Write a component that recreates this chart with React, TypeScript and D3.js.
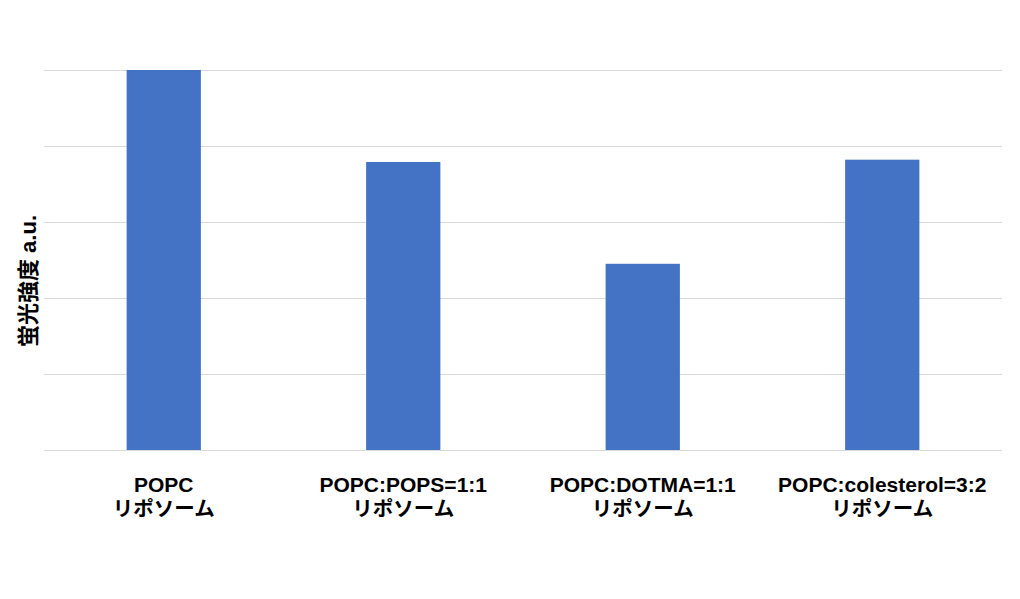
import React, { useEffect, useRef } from "react";
import * as d3 from "d3";

const categories = ["POPC", "POPC:POPS=1:1", "POPC:DOTMA=1:1", "POPC:colesterol=3:2"];
const subLabel = "リポソーム";
const values = [5.0, 3.79, 2.45, 3.82];
const yTicks = [0, 1, 2, 3, 4, 5];
const yTitle = "蛍光強度 a.u.";

const W = 1020;
const H = 599;
const font = "'Liberation Sans', 'Noto Sans CJK JP', sans-serif";

export default function App() {
    const ref = useRef<SVGSVGElement>(null);
    useEffect(() => {
        const svg = d3.select(ref.current);
        svg.selectAll("*").remove();
        const m = { left: 44, right: 18, top: 70, bottom: 149 };
        const x = d3.scaleBand().domain(categories).range([m.left, W - m.right]).paddingInner(0.69).paddingOuter(0.345);
        const y = d3.scaleLinear().domain([0, 5]).range([H - m.bottom, m.top]);

        svg.append("g")
            .selectAll("line")
            .data(yTicks)
            .join("line")
            .attr("x1", m.left)
            .attr("x2", W - m.right)
            .attr("y1", d => y(d) + 0.5)
            .attr("y2", d => y(d) + 0.5)
            .attr("stroke", "#d9d9d9")
            .attr("stroke-width", 1);

        svg.append("g")
            .selectAll("rect")
            .data(values)
            .join("rect")
            .attr("x", (d, i) => x(categories[i]) as number)
            .attr("width", x.bandwidth())
            .attr("y", d => y(d))
            .attr("height", d => y(0) - y(d))
            .attr("fill", "#4472c4");

        const cx = (d: string) => (x(d) as number) + x.bandwidth() / 2;
        const labels = svg.append("g")
            .attr("font-family", font)
            .attr("font-weight", "bold")
            .attr("fill", "#000")
            .attr("text-anchor", "middle");
        labels.selectAll("text.l1")
            .data(categories)
            .join("text")
            .attr("class", "l1")
            .attr("x", cx)
            .attr("y", 492)
            .attr("font-size", 21)
            .text(d => d);
        labels.selectAll("text.l2")
            .data(categories)
            .join("text")
            .attr("class", "l2")
            .attr("x", cx)
            .attr("y", 516)
            .attr("font-size", 20.5)
            .text(subLabel);

        svg.append("text")
            .attr("transform", `translate(36,${281}) rotate(-90)`)
            .attr("text-anchor", "middle")
            .attr("font-family", font)
            .attr("font-weight", "bold")
            .attr("font-size", 22)
            .attr("fill", "#000")
            .text(yTitle);
    }, []);
    return (
        <svg ref={ref} width={W} height={H} viewBox={`0 0 ${W} ${H}`}
            style={{ position: "absolute", left: 0, top: 0, background: "#fff" }}></svg>
    );
}
